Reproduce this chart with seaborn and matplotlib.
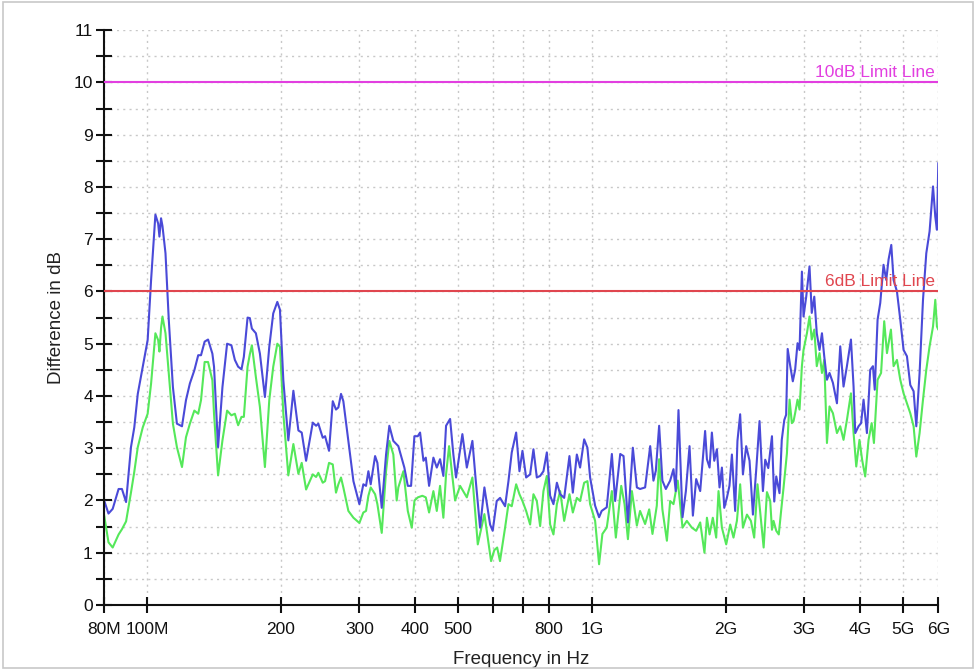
import numpy as np
import pandas as pd
import seaborn as sns
import matplotlib.pyplot as plt
from matplotlib.patches import Rectangle
from matplotlib.ticker import FixedLocator, NullLocator, MultipleLocator

# frequency in MHz, difference in dB
freq_blue = [
    80, 81.9, 83.7, 86.3, 87.8, 89.7, 92.0, 93.6, 95.3, 97.8, 100.3, 102.1, 104.4, 105.9,
    106.6, 107.5, 108.3, 110.0, 111.9, 114.3, 116.7, 119.8, 122.3, 124.8, 127.7, 130.3,
    132.2, 134.7, 137.1, 140.2, 141.4, 144.4, 147.7, 151.3, 154.7, 157.5, 160.2, 163.0,
    165.0, 168.2, 170.2, 172.0, 175.6, 179.3, 184.0, 188.2, 192.1, 196.2, 198.9, 202.4,
    207.7, 213.2, 218.8, 222.6, 227.7, 235.7, 239.8, 242.6, 248.2, 251.2, 256.4, 261.4,
    265.8, 269.1, 272.8, 276.1, 283.4, 290.9, 300, 306.2, 310.5, 314.3, 318.1, 325.4,
    329.3, 336.8, 344.4, 350.3, 357.6, 367, 378.6, 385.4, 392, 398.8, 405.8, 410.7,
    417.9, 423, 430.3, 440, 447.8, 455.4, 463.3, 469.8, 479.7, 487.9, 494.7, 511.2,
    523.1, 538.4, 548, 560.2, 572.9, 590, 598, 610.6, 621.3, 637.6, 648.8, 660, 675.2,
    686.8, 697.6, 711, 725.8, 738.4, 751.4, 764.4, 777.6, 791.4, 805, 819, 833.6, 848,
    865.7, 889.6, 905.3, 924.3, 940, 960, 976.3, 990, 1016, 1037, 1051, 1079, 1108,
    1127, 1157, 1177, 1204, 1235, 1261, 1282, 1316, 1351, 1374, 1391, 1415, 1439, 1465,
    1498, 1524, 1542, 1564, 1597, 1625, 1656, 1685, 1714, 1750, 1795, 1812, 1837, 1859,
    1882, 1908, 1934, 1958, 1982, 2009, 2036, 2062, 2097, 2122, 2152, 2183, 2220, 2259,
    2299, 2339, 2379, 2421, 2450, 2489, 2537, 2567, 2594, 2638, 2669, 2704, 2730, 2752,
    2789, 2826, 2860, 2896, 2926, 2962, 2987, 3029, 3081, 3117, 3158, 3199, 3245, 3286,
    3325, 3372, 3417, 3478, 3551, 3612, 3674, 3739, 3818, 3870, 3904, 3971, 4024, 4075,
    4147, 4218, 4278, 4318, 4382, 4443, 4519, 4583, 4638, 4704, 4760, 4844, 4928, 5013,
    5101, 5190, 5280, 5354, 5446, 5543, 5638, 5735, 5838, 5907, 5957, 6000,
]
blue_db = [
    2.01, 1.75, 1.84, 2.22, 2.22, 1.97, 3.02, 3.4, 4.04, 4.56, 5.07, 6.22, 7.47, 7.3,
    7.05, 7.4, 7.25, 6.73, 5.45, 4.17, 3.47, 3.42, 3.92, 4.24, 4.49, 4.78,
    4.78, 5.04, 5.08, 4.81, 4.56, 3.02, 4.17, 5.0, 4.97, 4.69, 4.56, 4.51,
    4.75, 5.5, 5.49, 5.29, 5.2, 4.81, 3.98, 4.94, 5.58, 5.8, 5.65, 4.3,
    3.15, 4.1, 3.34, 3.30, 2.76, 3.49, 3.43, 3.47, 3.2, 3.23, 2.95, 3.9,
    3.74, 3.78, 4.04, 3.9, 3.14, 2.37, 1.93, 2.31, 2.28, 2.56, 2.31, 2.85,
    2.72, 1.86, 2.88, 3.43, 3.14, 3.04, 2.63, 2.28, 2.28, 3.23, 3.23, 3.30,
    2.76, 2.82, 2.28, 2.82, 2.63, 2.79, 2.47, 3.43, 3.56, 2.88, 2.44, 3.27,
    2.63, 3.14, 2.37, 1.48, 2.25, 1.54, 1.42, 1.99, 2.05, 1.89, 2.37, 2.92, 3.3,
    2.56, 2.95, 2.44, 2.5, 2.98, 2.44, 2.47, 2.56, 2.92, 2.09, 1.93, 2.34, 2.12,
    2.05, 2.85, 2.15, 2.88, 2.63, 3.17, 3.01, 2.44, 1.9, 1.68, 1.8, 1.87, 2.89,
    1.99, 2.89, 2.85, 1.58, 3.01, 2.25, 2.22, 2.25, 3.04, 2.38, 2.57, 3.43, 2.38, 2.22,
    2.38, 2.6, 2.18, 3.73, 1.68, 2.18, 3.04, 1.71, 2.41, 2.18, 3.33, 2.79, 2.63, 3.3,
    2.76, 2.98, 2.25, 2.63, 1.86, 2.05, 2.28, 2.88, 1.8, 3.14, 3.65, 2.5, 3.04, 2.76,
    1.73, 2.6, 3.52, 2.18, 2.78, 2.62, 3.23, 1.98, 2.46, 2.14, 3.16, 3.54, 3.64, 4.9,
    4.57, 4.28, 4.5, 5.01, 4.88, 6.38, 5.52, 5.9, 6.48, 5.59, 5.9, 5.2, 4.88, 5.2,
    4.76, 4.31, 4.44, 4.25, 3.86, 4.95, 4.18, 4.57, 5.08, 4.18, 3.29, 3.42, 3.48, 3.93,
    3.29, 4.5, 4.57, 4.12, 5.46, 5.78, 6.51, 6.22, 6.61, 6.89, 6.22, 6.0, 5.46, 4.88,
    4.76, 4.21, 4.09, 3.42, 4.44, 5.84, 6.73, 7.15, 8.01, 7.43, 7.18, 8.46,
]

freq_green = [
    80, 81.9, 83.7, 86.3, 87.8, 89.7, 92.0, 93.6, 95.3, 97.8, 100.3, 102.1, 104.4, 105.9,
    106.6, 107.5, 108.3, 110.0, 111.9, 114.3, 116.7, 119.8, 122.3, 124.8, 127.7, 130.3,
    132.2, 134.7, 137.1, 140.2, 141.4, 144.4, 147.7, 151.3, 154.7, 157.5, 160.2, 163.0,
    165.0, 168.2, 170.2, 172.0, 175.6, 179.3, 184.0, 188.2, 192.1, 196.2, 198.9, 202.4,
    207.7, 213.2, 218.8, 222.6, 227.7, 235.7, 239.8, 242.6, 248.2, 251.2, 256.4, 261.4,
    265.8, 269.1, 272.8, 276.1, 283.4, 290.9, 300, 306.2, 310.5, 314.3, 318.1, 325.4,
    329.3, 336.8, 344.4, 350.3, 357.6, 363.9, 367, 376.7, 385.4, 393.4, 399, 406, 415.6,
    423, 430.3, 440, 447.8, 455.4, 463.3, 469.8, 477.2, 483.9, 492.3, 505.2, 523.1,
    538.4, 553.6, 572.9, 593, 603, 612, 621, 637.6, 648.8, 660, 675.2, 686.8, 697.6,
    711, 725.8, 738.4, 751.4, 764.4, 777.6, 791.4, 805, 819, 833.6, 848, 865.7, 889.6,
    905.3, 924.3, 940, 960, 976.3, 990, 1016, 1037, 1055, 1079, 1108, 1131, 1163, 1183,
    1204, 1229, 1261, 1282, 1316, 1344, 1367, 1398, 1415, 1439, 1473, 1498, 1524, 1558,
    1597, 1633, 1676, 1714, 1750, 1789, 1812, 1837, 1868, 1901, 1924, 1958, 2002, 2044,
    2079, 2116, 2152, 2183, 2229, 2275, 2314, 2354, 2390, 2430, 2472, 2514, 2537, 2558,
    2594, 2628, 2660, 2694, 2741, 2779, 2812, 2837, 2860, 2896, 2926, 2962, 2987, 3040,
    3081, 3117, 3158, 3199, 3245, 3286, 3325, 3372, 3417, 3478, 3551, 3612, 3674, 3739,
    3818, 3870, 3924, 3990, 4045, 4110, 4182, 4250, 4300, 4382, 4462, 4535, 4600, 4695,
    4760, 4844, 4928, 5013, 5101, 5190, 5280, 5354, 5446, 5543, 5638, 5735, 5838, 5907,
    5957, 6000,
]
green_db = [
    1.74, 1.2, 1.1, 1.35, 1.45, 1.6, 2.15, 2.55, 3.02, 3.4, 3.66, 4.24, 5.2, 5.07,
    4.85, 5.3, 5.52, 5.2, 4.43, 3.47, 3.02, 2.64, 3.21, 3.47, 3.72, 3.66,
    3.92, 4.65, 4.65, 4.3, 3.66, 2.48, 3.15, 3.72, 3.63, 3.66, 3.44, 3.6,
    3.6, 4.56, 4.8, 4.97, 4.36, 3.79, 2.64, 3.92, 4.56, 5.0, 4.94, 3.66,
    2.48, 3.08, 2.51, 2.72, 2.21, 2.5, 2.45, 2.53, 2.34, 2.37, 2.72, 2.69,
    2.15, 2.31, 2.44, 2.25, 1.8, 1.67, 1.57, 1.77, 1.8, 2.09, 2.25, 2.12,
    1.93, 1.38, 2.56, 3.14, 2.88, 2.0, 2.25, 2.56, 1.8, 1.48, 2.0, 2.06, 2.09,
    2.06, 1.77, 2.18, 1.8, 2.28, 1.67, 2.5, 3.04, 2.56, 2.0, 2.28, 2.06,
    2.44, 1.16, 1.74, 0.84, 1.05, 1.1, 0.84, 1.48, 1.93, 1.89, 2.31, 2.12, 1.99,
    1.8, 1.54, 2.12, 1.99, 1.51, 2.18, 2.47, 1.54, 1.35, 1.93, 2.18, 1.61, 2.12,
    1.77, 2.05, 1.99, 2.34, 2.37, 1.93, 1.61, 0.78, 1.36, 1.48, 2.18, 1.29, 2.28, 1.93,
    1.26, 2.18, 1.52, 1.8, 1.55, 1.83, 1.36, 1.9, 2.79, 1.83, 1.23, 1.99, 1.93, 2.38,
    1.48, 1.61, 1.48, 1.42, 1.58, 1.0, 1.67, 1.35, 1.67, 1.29, 2.18, 1.48, 1.16, 1.54,
    1.29, 1.61, 2.31, 1.48, 1.73, 1.61, 1.29, 2.31, 1.73, 1.1, 2.16, 1.99, 1.44, 1.61,
    1.42, 1.35, 1.8, 2.25, 2.9, 3.93, 3.48, 3.52, 3.67, 3.93, 3.74, 4.57, 4.88, 5.2,
    5.52, 5.08, 5.27, 4.57, 4.82, 4.44, 4.69, 3.1, 3.8, 3.67, 3.29, 3.42, 3.16, 3.54,
    4.05, 3.29, 2.65, 3.16, 2.78, 2.46, 3.16, 3.48, 3.1, 4.31, 4.44, 5.43, 4.82, 5.27,
    4.57, 4.69, 4.31, 4.05, 3.86, 3.67, 3.42, 2.84, 3.29, 3.93, 4.5, 4.95, 5.33, 5.84,
    5.33, 5.27,
]

limit_values = [10, 6]
limit_labels = ["10dB Limit Line", "6dB Limit Line"]
limit_colors = ["#e23fe0", "#e0464f"]

xtick_values = [80, 100, 200, 300, 400, 500, 600, 700, 800, 1000, 2000, 3000, 4000, 5000, 6000]
xtick_labels = ["80M", "100M", "200", "300", "400", "500", "", "", "800", "1G",
                "2G", "3G", "4G", "5G", "6G"]

sns.set_style("white")
plt.rcParams["font.family"] = ["Liberation Sans", "DejaVu Sans"]

fig = plt.figure(figsize=(9.77, 6.70), dpi=100)
ax = fig.add_axes([0.1064, 0.097, 0.854, 0.858])

# light frame round the whole picture
fig.patches.append(Rectangle((0.003, 0.003), 0.993, 0.994, transform=fig.transFigure,
                             fill=False, edgecolor="#c8c8c8", linewidth=1.2))

blue_df = pd.DataFrame({"freq": freq_blue, "db": blue_db})
green_df = pd.DataFrame({"freq": freq_green, "db": green_db})

ax.set_xscale("log")

sns.lineplot(data=green_df, x="freq", y="db", ax=ax, color="#55e85a",
             linewidth=1.5, estimator=None, sort=False)
sns.lineplot(data=blue_df, x="freq", y="db", ax=ax, color="#4a4ad8",
             linewidth=1.5, estimator=None, sort=False)

for val, lab, col in zip(limit_values, limit_labels, limit_colors):
    ax.axhline(val, color=col, linewidth=1.5, zorder=3)
    ax.text(0.996, val + 0.05, lab, transform=ax.get_yaxis_transform(),
            ha="right", va="bottom", color=col, fontsize=12.5)

ax.set_xlim(80, 6000)
ax.set_ylim(0, 11)

ax.xaxis.set_major_locator(FixedLocator(xtick_values))
ax.set_xticklabels(xtick_labels)
ax.xaxis.set_minor_locator(NullLocator())
ax.yaxis.set_major_locator(MultipleLocator(1))
ax.yaxis.set_minor_locator(MultipleLocator(0.5))

ax.grid(True, which="major", axis="x", color="#c8c8c8", linestyle=(0, (1.5, 3)), linewidth=1)
ax.grid(True, which="both", axis="y", color="#c8c8c8", linestyle=(0, (1.5, 3)), linewidth=1)

ax.tick_params(axis="both", which="both", bottom=True, left=True, direction="inout",
               length=12, width=1.5, colors="#111111")
ax.tick_params(axis="x", which="major", labelsize=12.5, pad=6)
ax.tick_params(axis="y", which="major", labelsize=12.5, pad=2)

for side in ["top", "right"]:
    ax.spines[side].set_visible(False)
for side in ["left", "bottom"]:
    ax.spines[side].set_color("#111111")
    ax.spines[side].set_linewidth(1.5)

ax.set_xlabel("Frequency in Hz", fontsize=13.5, color="#222222", labelpad=10)
ax.set_ylabel("Difference in dB", fontsize=13.5, color="#222222", labelpad=6)

fig.savefig("out.png", dpi=100)
